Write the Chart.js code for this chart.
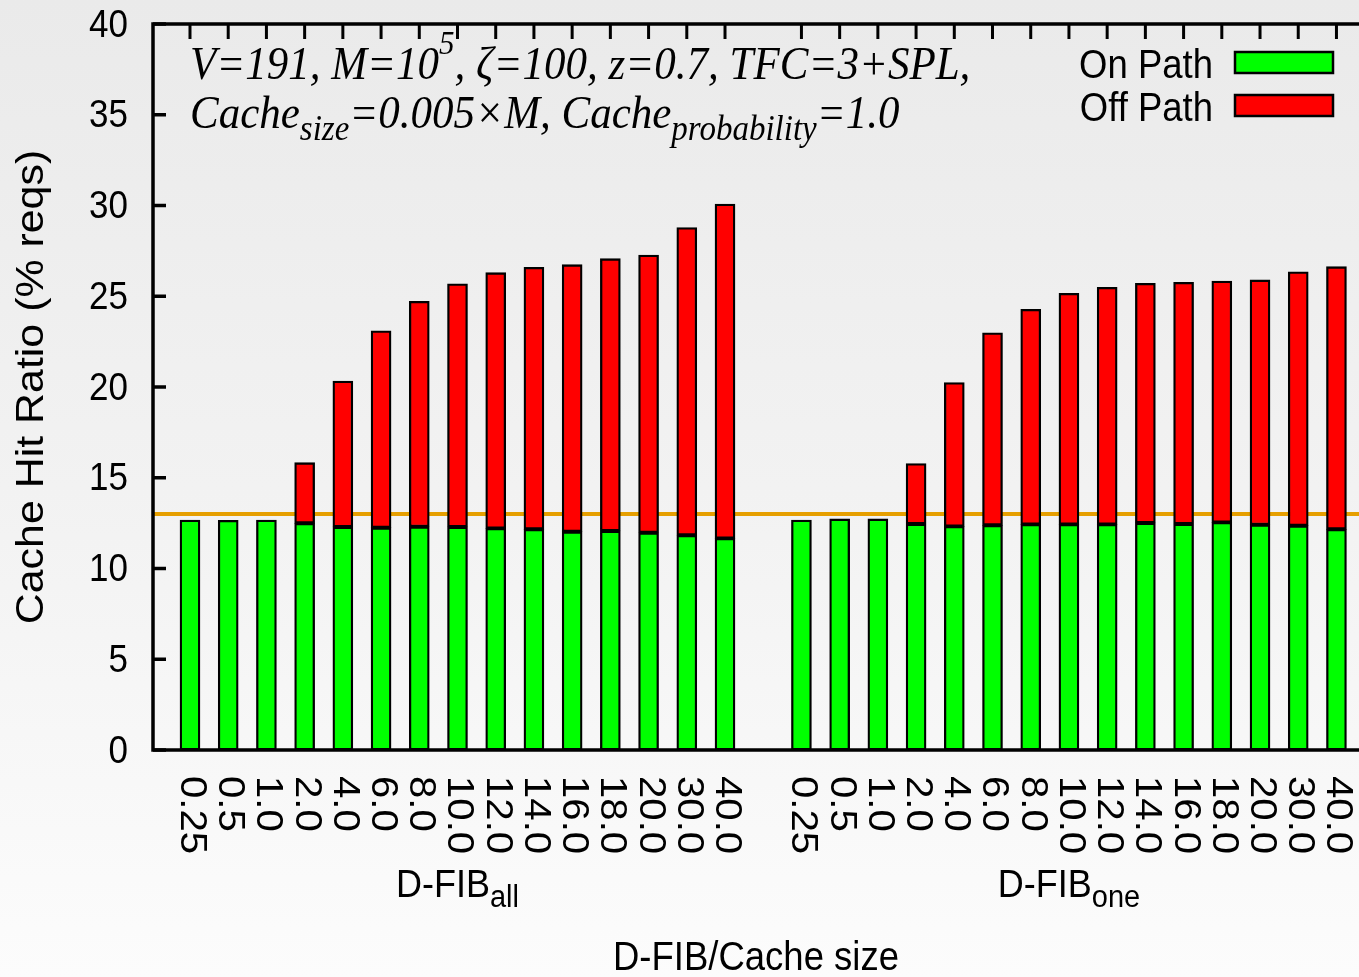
<!DOCTYPE html>
<html><head><meta charset="utf-8">
<script src="https://cdn.jsdelivr.net/npm/chart.js@4.4.1/dist/chart.umd.min.js"></script>
<style>
html,body{margin:0;padding:0;overflow:hidden;}
body{width:1359px;height:977px;background:linear-gradient(to bottom,#eaeaea 0%,#f2f2f2 50%,#fcfcfc 100%);}
canvas{display:block;}
</style></head><body>
<canvas id="c" width="1359" height="977"></canvas>
<script>
// ---- data ----
const sizeLabels = ["0.25","0.5","1.0","2.0","4.0","6.0","8.0","10.0","12.0","14.0","16.0","18.0","20.0","30.0","40.0"];
const groupNames = ["all","one"];
const onPathAll  = [12.67,12.65,12.67,12.49,12.29,12.25,12.30,12.29,12.21,12.16,12.03,12.07,11.97,11.83,11.66];
const offPathAll = [0,0,0,3.34,8.04,10.85,12.42,13.40,14.09,14.43,14.71,15.00,15.30,16.95,18.42];
const onPathOne  = [12.67,12.73,12.73,12.45,12.32,12.38,12.43,12.43,12.43,12.51,12.45,12.54,12.41,12.36,12.16];
const offPathOne = [0,0,0,3.33,7.92,10.61,11.85,12.73,13.06,13.20,13.32,13.30,13.49,13.99,14.47];
const threshold = 13.0;
const yTicks = [0,5,10,15,20,25,30,35,40];
const annotation1 = [["V=191, M=10","n"],["5","sup"],[", \u03b6=100, z=0.7, TFC=3+SPL,","n"]];
const annotation2 = [["Cache","n"],["size","sub"],["=0.005\u00d7M, Cache","n"],["probability","sub"],["=1.0","n"]];

// ---- build ----
const GAP = 1;
const perGroup = sizeLabels.length + GAP;
const xIndex = [];
groupNames.forEach((g,gi)=>sizeLabels.forEach((s,i)=>xIndex.push(gi*perGroup+i)));
const onVals = [...onPathAll, ...onPathOne];
const offVals = [...offPathAll, ...offPathOne];
const onData = onVals.map((v,i)=>({x:xIndex[i],y:v}));
const offData = offVals.map((v,i)=>({x:xIndex[i],y:v}));

const K = 1.1; // vertical stretch of glyphs
const SANS = "'Liberation Sans', Arial, sans-serif";
const SERIF = "'Liberation Serif', 'Times New Roman', serif";

function stxt(ctx, s, x, y, font, align, base, rot){
  ctx.save();
  ctx.translate(x,y);
  ctx.scale(1,K);
  if (rot) ctx.rotate(rot);
  ctx.font = font;
  ctx.textAlign = align || 'left';
  ctx.textBaseline = base || 'alphabetic';
  ctx.fillStyle = '#000';
  ctx.fillText(s,0,0);
  ctx.restore();
}
function runs(ctx, list, x, y, fonts, offs, center){
  let w = 0;
  list.forEach(([t,k])=>{ctx.font=fonts[k]; w += ctx.measureText(t).width;});
  let cx = center ? x - w/2 : x;
  list.forEach(([t,k])=>{
    ctx.font=fonts[k];
    stxt(ctx, t, cx, y + (offs[k]||0), fonts[k], 'left', 'alphabetic');
    cx += ctx.measureText(t).width;
  });
}

const decor = {
  id:'decor',
  beforeDatasetsDraw(chart){
    const {ctx, chartArea:a, scales:{y}} = chart;
    const py = y.getPixelForValue(threshold);
    ctx.save();
    ctx.strokeStyle = '#e69f00';
    ctx.lineWidth = 4;
    ctx.beginPath(); ctx.moveTo(a.left, py); ctx.lineTo(a.right, py); ctx.stroke();
    ctx.restore();
  },
  afterDatasetsDraw(chart){
    const {ctx, chartArea:a, scales:{x,y}} = chart;
    ctx.save();
    ctx.strokeStyle = '#000';
    ctx.lineCap = 'butt';
    // frame
    ctx.lineWidth = 3.5;
    ctx.beginPath();
    ctx.moveTo(a.right+5, a.top); ctx.lineTo(a.left, a.top); ctx.lineTo(a.left, a.bottom); ctx.lineTo(a.right+5, a.bottom);
    ctx.stroke();
    // top ticks (mirror)
    ctx.lineWidth = 3;
    xIndex.forEach(v=>{
      const px = x.getPixelForValue(v);
      ctx.beginPath(); ctx.moveTo(px, a.top); ctx.lineTo(px, a.top+15); ctx.stroke();
    });
    // y ticks
    ctx.lineWidth = 3.5;
    yTicks.forEach(v=>{
      const py = y.getPixelForValue(v);
      ctx.beginPath(); ctx.moveTo(a.left, py); ctx.lineTo(a.left+13, py); ctx.stroke();
    });
    ctx.restore();

    // y tick labels
    yTicks.forEach(v=>{
      stxt(ctx, String(v), a.left-25, y.getPixelForValue(v)+2, `35px ${SANS}`, 'right', 'middle');
    });
    // x tick labels (rotated clockwise)
    xIndex.forEach((v,i)=>{
      stxt(ctx, sizeLabels[i % sizeLabels.length], x.getPixelForValue(v)+1, a.bottom+26, `36.5px ${SANS}`, 'left', 'middle', Math.PI/2);
    });
    // group labels
    groupNames.forEach((g,gi)=>{
      const cx = x.getPixelForValue(gi*perGroup + (sizeLabels.length-1)/2);
      runs(ctx, [["D-FIB","n"],[g,"sub"]], cx, a.bottom+147, {n:`36px ${SANS}`, sub:`29px ${SANS}`}, {sub:10}, true);
    });
    // axis titles
    stxt(ctx, "D-FIB/Cache size", (a.left+a.right)/2, 970, `36.5px ${SANS}`, 'center', 'alphabetic');
    stxt(ctx, "Cache Hit Ratio (% reqs)", 43, (a.top+a.bottom)/2, `39px ${SANS}`, 'center', 'alphabetic', -Math.PI/2);

    // annotation
    const af = {n:`italic 43px ${SERIF}`, sup:`italic 31px ${SERIF}`, sub:`italic 33px ${SERIF}`};
    const ao = {sup:-25, sub:12};
    runs(ctx, annotation1, 190, 79, af, ao, false);
    runs(ctx, annotation2, 190, 128, af, ao, false);

    // legend
    const ds = chart.data.datasets;
    const legY = [63, 106];
    ds.forEach((d,i)=>{
      stxt(ctx, d.label, 1213, legY[i]+15, `36.5px ${SANS}`, 'right', 'alphabetic');
      ctx.save();
      ctx.fillStyle = d.backgroundColor;
      ctx.fillRect(1235, legY[i]-11, 98, 21);
      ctx.strokeStyle = '#000'; ctx.lineWidth = 2.5;
      ctx.strokeRect(1235, legY[i]-11, 98, 21);
      ctx.restore();
    });
  }
};

new Chart(document.getElementById('c'), {
  type:'bar',
  data:{datasets:[
    {label:'On Path', data:onData, backgroundColor:'#00ff00', borderColor:'#000', borderWidth:2.3, borderSkipped:false, stack:'s', barThickness:20},
    {label:'Off Path', data:offData, backgroundColor:'#ff0000', borderColor:'#000', borderWidth:2.3, borderSkipped:false, stack:'s', barThickness:20}
  ]},
  options:{
    responsive:false, animation:false, devicePixelRatio:1,
    layout:{padding:{left:153, top:24, right:0, bottom:227}},
    plugins:{legend:{display:false}, tooltip:{enabled:false}},
    scales:{
      x:{type:'linear', min:-0.968, max:30.59, offset:false, grid:{display:false, drawTicks:false}, border:{display:false}, ticks:{display:false}, afterFit:s=>{s.height=0;}},
      y:{min:0, max:40, stacked:true, grid:{display:false, drawTicks:false}, border:{display:false}, ticks:{display:false}, afterFit:s=>{s.width=0;}}
    }
  },
  plugins:[decor]
});
</script>
</body></html>
